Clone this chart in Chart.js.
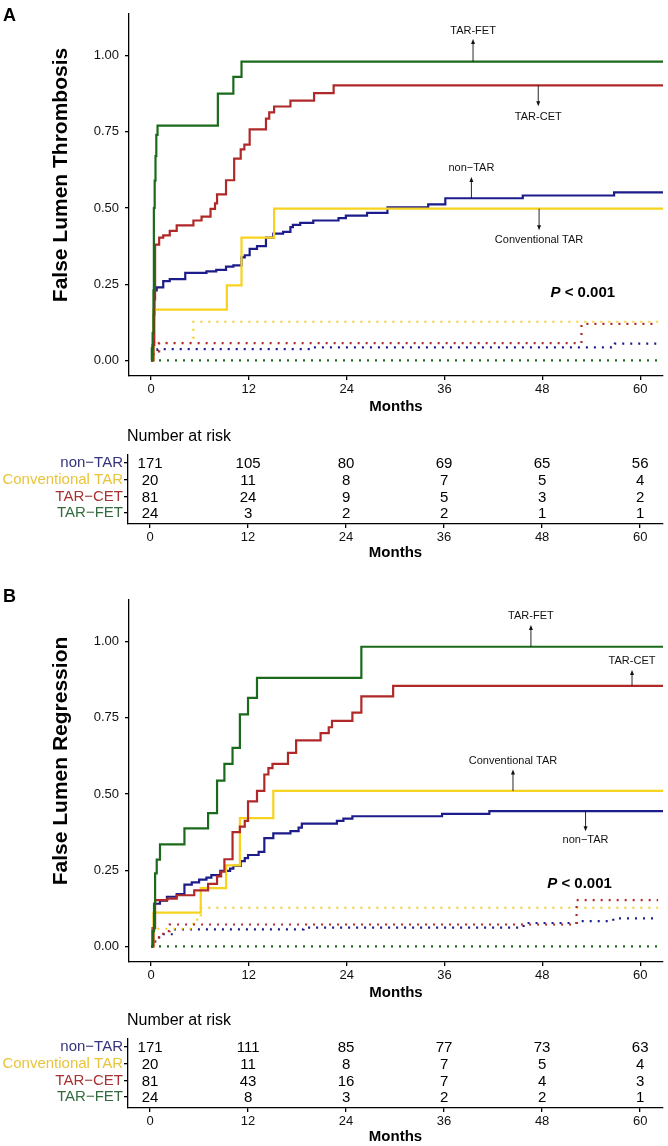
<!DOCTYPE html>
<html>
<head>
<meta charset="utf-8">
<script src="https://cdn.jsdelivr.net/npm/chart.js@4.4.0/dist/chart.umd.min.js"></script>
<style>
  body { margin: 0; background: #fff; width: 668px; height: 1146px; position: relative; overflow: hidden; }
  canvas { position: absolute; left: 0; }
</style>
</head>
<body>
<canvas id="plotA" width="668" height="420" style="top:0px"></canvas>
<canvas id="riskA" width="668" height="142" style="top:420px"></canvas>
<canvas id="plotB" width="668" height="420" style="top:586px"></canvas>
<canvas id="riskB" width="668" height="142" style="top:1004px"></canvas>
<script>
// ---- data ----
const months = [0, 12, 24, 36, 48, 60];
const groups = ['non\u2212TAR', 'Conventional TAR', 'TAR\u2212CET', 'TAR\u2212FET'];
const probTicks = [0, 0.25, 0.5, 0.75, 1];

// A: false lumen thrombosis, [month, cumulative incidence]
const thrNonTar = [[0,0],[0.2,0.05],[0.3,0.15],[0.4,0.23],[0.7,0.24],[1.5,0.26],[2.3,0.267],[4.2,0.287],[6.8,0.292],[8.0,0.297],[9.2,0.308],[10.1,0.312],[11.1,0.338],[11.5,0.345],[12.1,0.366],[13.0,0.375],[14.1,0.403],[15.0,0.416],[16.2,0.422],[17.1,0.437],[17.4,0.445],[18.3,0.451],[19.9,0.459],[23.0,0.467],[23.9,0.475],[26.5,0.484],[29.0,0.502],[34.0,0.512],[36.1,0.532],[45.6,0.541],[56.8,0.551],[62.8,0.551]];
const thrConv = [[0,0],[0.3,0.167],[9.3,0.246],[11.1,0.403],[15.1,0.498],[62.8,0.498]];
const thrCet = [[0,0],[0.3,0.05],[0.4,0.2],[0.5,0.38],[1.0,0.403],[1.5,0.41],[2.3,0.425],[3.15,0.443],[5.2,0.459],[6.2,0.472],[7.3,0.497],[7.85,0.515],[8.1,0.545],[9.2,0.591],[10.2,0.662],[11.0,0.692],[11.45,0.708],[12.1,0.758],[14.1,0.793],[14.5,0.814],[15.1,0.833],[17.1,0.852],[20.0,0.877],[22.4,0.902],[62.8,0.902]];
const thrFet = [[0,0],[0.1,0.04],[0.2,0.09],[0.3,0.23],[0.35,0.5],[0.45,0.59],[0.55,0.67],[0.65,0.74],[0.8,0.77],[8.2,0.875],[10.1,0.93],[11.1,0.98],[62.8,0.98]];
// A: competing event (dotted)
const thrNonTarOther = [[0,0],[0.3,0.02],[0.8,0.037],[19.8,0.043],[56.9,0.055],[62.2,0.055]];
const thrConvOther = [[0,0],[0.3,0.058],[5.2,0.127],[62.2,0.127]];
const thrCetOther = [[0,0],[0.3,0.03],[1.0,0.057],[52.8,0.12],[62.2,0.12]];
const thrFetOther = [[0,0],[62.2,0]];

// B: false lumen regression
const regNonTar = [[0,0],[0.2,0.06],[0.4,0.14],[1.1,0.15],[1.95,0.163],[3.15,0.172],[4.1,0.203],[5.0,0.21],[5.9,0.219],[6.8,0.226],[7.4,0.234],[8.5,0.248],[9.7,0.255],[10.1,0.264],[11.0,0.28],[11.5,0.29],[11.9,0.30],[13.2,0.31],[13.9,0.355],[15.0,0.371],[17.1,0.378],[18.1,0.39],[18.5,0.403],[22.8,0.412],[23.6,0.419],[24.7,0.427],[35.7,0.435],[41.5,0.444],[62.8,0.444]];
const regConv = [[0,0],[0.3,0.111],[6.1,0.191],[9.2,0.266],[10.9,0.421],[15.0,0.51],[62.8,0.51]];
const regCet = [[0,0],[0.3,0.06],[0.5,0.152],[2.0,0.157],[3.15,0.168],[5.3,0.184],[7.0,0.205],[8.1,0.23],[8.6,0.245],[9.0,0.286],[10.0,0.375],[10.9,0.393],[11.5,0.412],[11.9,0.476],[13.0,0.51],[13.9,0.564],[14.4,0.585],[14.9,0.599],[16.8,0.635],[17.8,0.676],[20.8,0.70],[21.8,0.719],[22.2,0.74],[24.7,0.767],[25.8,0.82],[29.7,0.855],[62.8,0.855]];
const regFet = [[0,0],[0.2,0.05],[0.37,0.14],[0.5,0.24],[0.7,0.285],[1.1,0.335],[4.1,0.387],[7.0,0.437],[8.1,0.544],[9.0,0.599],[10.0,0.651],[10.9,0.761],[11.9,0.815],[13.0,0.881],[25.8,0.983],[62.8,0.983]];
const regNonTarOther = [[0,0],[0.5,0.02],[1.0,0.04],[2.7,0.056],[18.7,0.062],[45.7,0.077],[52.2,0.083],[56.7,0.092],[62.0,0.10]];
const regConvOther = [[0,0],[0.3,0.058],[5.2,0.088],[6.1,0.127],[62.2,0.127]];
const regCetOther = [[0,0],[0.5,0.03],[1.5,0.05],[2.3,0.072],[52.2,0.152],[62.2,0.152]];
const regFetOther = [[0,0],[62.2,0]];

// number at risk
const riskThrNonTar = [171, 105, 80, 69, 65, 56];
const riskThrConv = [20, 11, 8, 7, 5, 4];
const riskThrCet = [81, 24, 9, 5, 3, 2];
const riskThrFet = [24, 3, 2, 2, 1, 1];
const riskRegNonTar = [171, 111, 85, 77, 73, 63];
const riskRegConv = [20, 11, 8, 7, 5, 4];
const riskRegCet = [81, 43, 16, 7, 4, 3];
const riskRegFet = [24, 8, 3, 2, 2, 1];

// ---- styling ----
const FONT = "'Liberation Sans', Arial, Helvetica, sans-serif";
const lineColors = ['#1c1c8a', '#f7d21e', '#b02828', '#1b6a1b'];
const labelColors = ['#34347c', '#e8c43e', '#a83232', '#336b3e'];
const X_MIN = -2.7, X_MAX = 62.8;

function stepAt(series, x) {
  let v = 0;
  series.forEach(p => { if (p[0] <= x) v = p[1]; });
  return v;
}

function xScale(h, titlePad) {
  return {
    type: 'linear', min: X_MIN, max: X_MAX,
    afterBuildTicks: s => { s.ticks = months.map(v => ({ value: v })); },
    afterFit: s => { s.height = h; },
    border: { display: true, color: '#000', width: 1.3 },
    grid: { display: true, drawOnChartArea: false, drawTicks: true, tickLength: 4, color: '#000', lineWidth: 1.3 },
    ticks: { color: '#111', font: { family: FONT, size: 13 }, padding: 2, maxRotation: 0 },
    title: { display: true, text: 'Months', color: '#000', font: { family: FONT, size: 15, weight: 'bold' }, padding: { top: 0, bottom: titlePad } }
  };
}

function kmChart(id, letter, letterY, yTitle, solid, dotted, notes, pAt) {
  const datasets = [];
  solid.forEach((s, i) => datasets.push({
    data: s.map(p => ({ x: p[0], y: p[1] })),
    borderColor: lineColors[i], borderWidth: 2.2, stepped: true,
    pointRadius: 0, fill: false, order: 10 - i
  }));
  dotted.forEach((s, i) => datasets.push({
    data: s.map(p => ({ x: p[0], y: p[1] })),
    borderColor: lineColors[i], borderWidth: 2.2, borderDash: [2, 6], stepped: true,
    pointRadius: 0, fill: false, order: 20 - i
  }));

  const extras = {
    id: 'extras',
    afterDatasetsDraw(chart) {
      const ctx = chart.ctx, xs = chart.scales.x, ys = chart.scales.y;
      ctx.save();
      // arrows + group names
      notes.forEach(n => {
        const px = xs.getPixelForValue(n.x);
        const y0 = ys.getPixelForValue(stepAt(solid[n.g], n.x));
        const y1 = ys.getPixelForValue(n.tip);
        const dir = y1 < y0 ? -1 : 1;
        ctx.strokeStyle = '#111';
        ctx.fillStyle = '#111';
        ctx.lineWidth = 0.9;
        ctx.beginPath();
        ctx.moveTo(px, y0);
        ctx.lineTo(px, y1 - dir * 3);
        ctx.stroke();
        ctx.beginPath();
        ctx.moveTo(px, y1);
        ctx.lineTo(px - 2, y1 - dir * 5);
        ctx.lineTo(px + 2, y1 - dir * 5);
        ctx.closePath();
        ctx.fill();
        ctx.font = '11px ' + FONT;
        ctx.textAlign = 'center';
        ctx.textBaseline = 'middle';
        ctx.fillText(n.text, px, ys.getPixelForValue(n.ty));
      });
      // P value
      const lx = xs.getPixelForValue(pAt[0]), ly = ys.getPixelForValue(pAt[1]);
      ctx.fillStyle = '#000';
      ctx.textAlign = 'left';
      ctx.textBaseline = 'middle';
      ctx.font = 'italic bold 15px ' + FONT;
      ctx.fillText('P', lx, ly);
      const w = ctx.measureText('P').width;
      ctx.font = 'bold 15px ' + FONT;
      ctx.fillText(' < 0.001', lx + w, ly);
      // y title
      ctx.save();
      ctx.translate(61, 175);
      ctx.rotate(-Math.PI / 2);
      ctx.textAlign = 'center';
      ctx.font = 'bold 21px ' + FONT;
      ctx.fillText(yTitle, 0, 0);
      ctx.restore();
      // panel letter
      ctx.font = 'bold 18px ' + FONT;
      ctx.textAlign = 'left';
      ctx.fillText(letter, 3, letterY);
      ctx.restore();
    }
  };

  return new Chart(document.getElementById(id), {
    type: 'line',
    data: { datasets },
    plugins: [extras],
    options: {
      responsive: false, animation: false, devicePixelRatio: 1,
      layout: { padding: { left: 0, right: 5, top: 3, bottom: 0 } },
      plugins: { legend: { display: false }, tooltip: { enabled: false } },
      scales: {
        x: xScale(44, 4),
        y: {
          type: 'linear', min: -0.051, max: 1.137,
          afterBuildTicks: s => { s.ticks = probTicks.map(v => ({ value: v })); },
          afterFit: s => { s.width = 129; },
          border: { display: true, color: '#000', width: 1.3 },
          grid: { display: true, drawOnChartArea: false, drawTicks: true, tickLength: 4, color: '#000', lineWidth: 1.3 },
          ticks: { color: '#111', font: { family: FONT, size: 13 }, padding: 6, callback: v => v.toFixed(2) }
        }
      }
    }
  });
}

function riskChart(id, rows) {
  const datasets = rows.map((r, i) => ({
    data: months.map((m, j) => ({ x: m, y: i, n: r[j] })),
    pointRadius: 0, showLine: false
  }));
  const numbers = {
    id: 'numbers',
    afterDatasetsDraw(chart) {
      const ctx = chart.ctx;
      ctx.save();
      ctx.fillStyle = '#000';
      ctx.font = '15px ' + FONT;
      ctx.textAlign = 'center';
      ctx.textBaseline = 'middle';
      chart.data.datasets.forEach((ds, i) => {
        chart.getDatasetMeta(i).data.forEach((el, j) => {
          ctx.fillText(String(ds.data[j].n), el.x, el.y + 1);
        });
      });
      ctx.font = '16px ' + FONT;
      ctx.textAlign = 'left';
      ctx.fillText('Number at risk', chart.chartArea.left - 1, 17);
      ctx.restore();
    }
  };
  return new Chart(document.getElementById(id), {
    type: 'scatter',
    data: { datasets },
    plugins: [numbers],
    options: {
      responsive: false, animation: false, devicePixelRatio: 1,
      layout: { padding: { left: 0, right: 5, top: 35, bottom: 0 } },
      plugins: { legend: { display: false }, tooltip: { enabled: false } },
      scales: {
        x: xScale(38, 0),
        y: {
          type: 'linear', reverse: true, min: -0.48, max: 3.65,
          afterBuildTicks: s => { s.ticks = groups.map((g, i) => ({ value: i })); },
          afterFit: s => { s.width = 128; },
          border: { display: true, color: '#000', width: 1.3 },
          grid: { display: true, drawOnChartArea: false, drawTicks: true, tickLength: 4, color: '#000', lineWidth: 1.3 },
          ticks: { font: { family: FONT, size: 15 }, padding: 1,
                   color: c => labelColors[c.index], callback: v => groups[v] }
        }
      }
    }
  });
}

kmChart('plotA', 'A', 16, 'False Lumen Thrombosis',
  [thrNonTar, thrConv, thrCet, thrFet],
  [thrNonTarOther, thrConvOther, thrCetOther, thrFetOther],
  [
    { g: 3, x: 39.5, tip: 1.054, ty: 1.08, text: 'TAR-FET' },
    { g: 2, x: 47.5, tip: 0.834, ty: 0.80, text: 'TAR-CET' },
    { g: 0, x: 39.3, tip: 0.602, ty: 0.63, text: 'non\u2212TAR' },
    { g: 1, x: 47.6, tip: 0.427, ty: 0.395, text: 'Conventional TAR' }
  ],
  [49.0, 0.223]);

riskChart('riskA', [riskThrNonTar, riskThrConv, riskThrCet, riskThrFet]);

kmChart('plotB', 'B', 11, 'False Lumen Regression',
  [regNonTar, regConv, regCet, regFet],
  [regNonTarOther, regConvOther, regCetOther, regFetOther],
  [
    { g: 3, x: 46.6, tip: 1.054, ty: 1.083, text: 'TAR-FET' },
    { g: 2, x: 59.0, tip: 0.907, ty: 0.936, text: 'TAR-CET' },
    { g: 1, x: 44.4, tip: 0.58, ty: 0.609, text: 'Conventional TAR' },
    { g: 0, x: 53.3, tip: 0.378, ty: 0.349, text: 'non\u2212TAR' }
  ],
  [48.6, 0.205]);

riskChart('riskB', [riskRegNonTar, riskRegConv, riskRegCet, riskRegFet]);
</script>
</body>
</html>
